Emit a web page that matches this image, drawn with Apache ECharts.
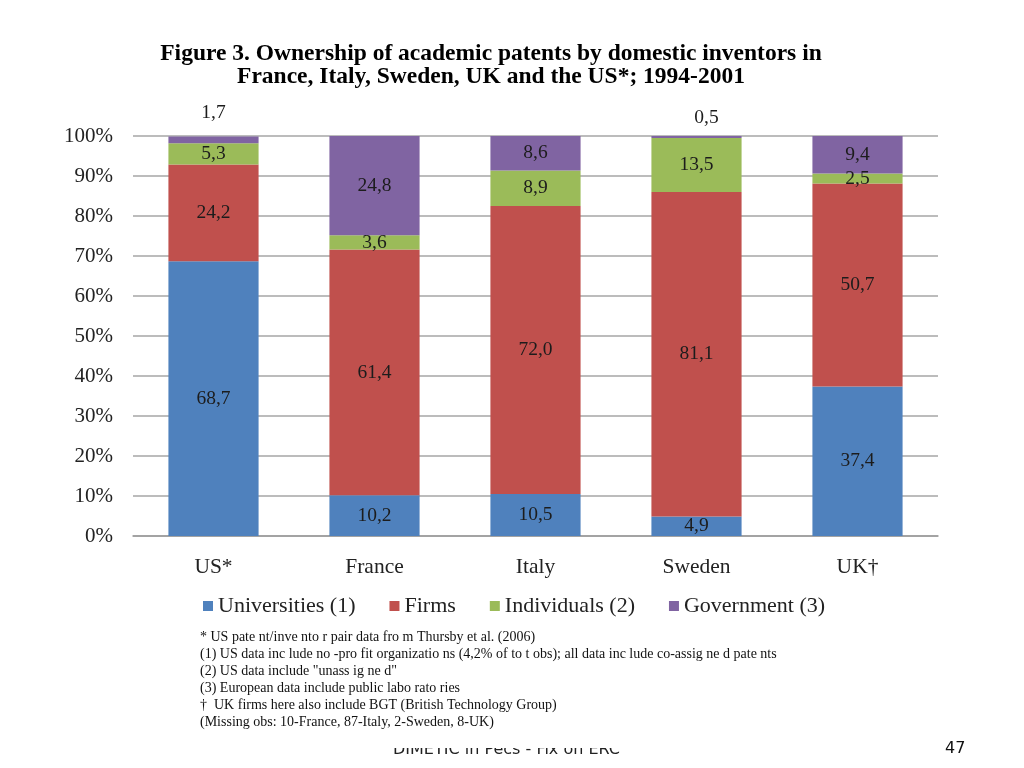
<!DOCTYPE html>
<html>
  <head>
    <meta charset="utf-8" />
    <title>ECharts</title>
    <script src="https://cdn.jsdelivr.net/npm/echarts@6/dist/echarts.min.js"></script>
    <style>
      html, body { margin: 0; padding: 0; background: #fff; }
    </style>
  </head>
  <body>
    <div id="main" style="width: 1024px;height:768px;"></div>
    <script type="text/javascript">
      // 数据
      var countries = ["US*", "France", "Italy", "Sweden", "UK\u2020"];
      var universities = [68.7, 10.2, 10.5, 4.9, 37.4];
      var firms = [24.2, 61.4, 72.0, 81.1, 50.7];
      var individuals = [5.3, 3.6, 8.9, 13.5, 2.5];
      var government = [1.7, 24.8, 8.6, 0.5, 9.4];
      var seriesNames = ["Universities (1)", "Firms", "Individuals (2)", "Government (3)"];
      var colors = ["#4F81BD", "#C0504D", "#9BBB59", "#8064A2"];

      var notes = [
        "* US pate nt/inve nto r pair data fro m Thursby et al. (2006)",
        "(1) US data inc lude no -pro fit organizatio ns (4,2% of to t obs); all data inc lude co-assig ne d pate nts",
        "(2) US data include \"unass ig ne d\"",
        "(3) European data include public labo rato ries",
        "\u2020  UK firms here also include BGT (British Technology Group)",
        "(Missing obs: 10-France, 87-Italy, 2-Sweden, 8-UK)"
      ];

      var serif = "'Liberation Serif', 'Times New Roman', serif";

      function fmt(p) {
        return p.value.toFixed(1).replace(".", ",");
      }

      var myChart = echarts.init(document.getElementById("main"));

      function makeSeries(name, values, color, isTop) {
        return {
          name: name,
          type: "bar",
          stack: "total",
          barWidth: "56%",
          itemStyle: { color: color },
          label: {
            show: true,
            position: "inside",
            formatter: fmt,
            color: "#1c1c1c",
            fontFamily: serif,
            fontSize: 19.5
          },
          data: values.map(function (v, i) {
            // 太小的数值标在柱子上方
            if (isTop && v < 2) {
              return {
                value: v,
                label: {
                  position: "top",
                  distance: i === 0 ? 14 : 8,
                  offset: i === 0 ? [0, 0] : [10, 0]
                }
              };
            }
            return v;
          })
        };
      }

      var option = {
        backgroundColor: "#fff",
        animation: false,
        color: colors,
        title: {
          text: "Figure 3. Ownership of academic patents by domestic inventors in\nFrance, Italy, Sweden, UK and the US*; 1994-2001",
          left: 486,
          top: 37,
          textAlign: "center",
          textStyle: {
            fontFamily: serif,
            fontWeight: "bold",
            fontSize: 23.5,
            lineHeight: 23,
            color: "#000"
          }
        },
        grid: {
          left: 133,
          right: 86,
          top: 136,
          bottom: 232
        },
        legend: {
          bottom: 146,
          left: 198,
          itemWidth: 10,
          itemHeight: 10,
          itemGap: 34,
          icon: "rect",
          textStyle: {
            fontFamily: serif,
            fontSize: 22,
            color: "#222"
          },
          data: seriesNames
        },
        xAxis: {
          type: "category",
          data: countries,
          axisLine: { lineStyle: { color: "#9a9a9a", width: 1.5 } },
          axisTick: { show: false },
          axisLabel: {
            fontFamily: serif,
            fontSize: 21.5,
            color: "#222",
            margin: 20
          }
        },
        yAxis: {
          type: "value",
          min: 0,
          max: 100,
          interval: 10,
          axisLine: { show: false },
          axisTick: { show: false },
          splitLine: { lineStyle: { color: "#a6a6a6", width: 1.5 } },
          axisLabel: {
            formatter: "{value}%",
            fontFamily: serif,
            fontSize: 21,
            color: "#222",
            margin: 20
          }
        },
        graphic: [
          {
            type: "text",
            left: 200,
            top: 629,
            style: {
              text: notes.join("\n"),
              font: "14px " + serif,
              lineHeight: 17,
              fill: "#111"
            }
          },
          {
            type: "text",
            left: 393,
            top: 742,
            z: 1,
            style: {
              text: "DIMETIC in Pecs - Fix on ERC",
              font: "16px 'DejaVu Sans', sans-serif",
              fill: "#222"
            }
          },
          {
            // 遮住页脚上半部分
            type: "rect",
            z: 2,
            shape: { x: 380, y: 735, width: 260, height: 13 },
            style: { fill: "#fff" }
          },
          {
            type: "text",
            left: 945,
            top: 741,
            style: {
              text: "47",
              font: "16px 'DejaVu Sans', sans-serif",
              fill: "#111"
            }
          }
        ],
        series: [
          makeSeries(seriesNames[0], universities, colors[0], false),
          makeSeries(seriesNames[1], firms, colors[1], false),
          makeSeries(seriesNames[2], individuals, colors[2], false),
          makeSeries(seriesNames[3], government, colors[3], true)
        ]
      };

      myChart.setOption(option);
    </script>
  </body>
</html>
